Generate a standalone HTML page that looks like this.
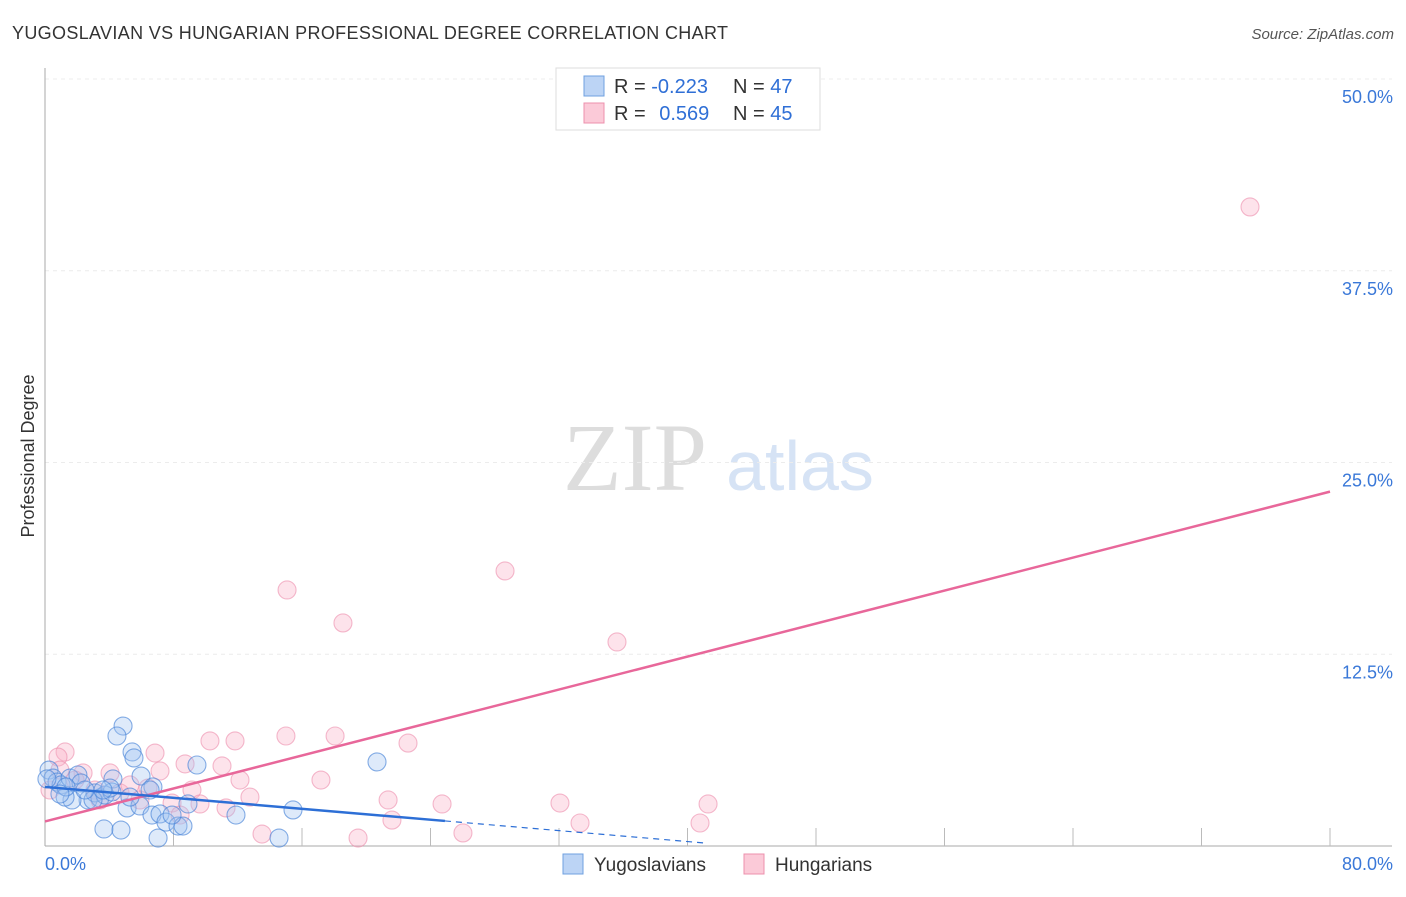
<!DOCTYPE html>
<html><head><meta charset="utf-8">
<style>
body{margin:0;background:#fff;font-family:"Liberation Sans",sans-serif;}
#wrap{position:relative;width:1406px;height:892px;}
</style></head>
<body>
<div id="wrap">
<svg id="svg" width="1406" height="892" xmlns="http://www.w3.org/2000/svg">
<text x="12" y="39" font-size="18" fill="#333" textLength="716">YUGOSLAVIAN VS HUNGARIAN PROFESSIONAL DEGREE CORRELATION CHART</text>
<text x="1394" y="39" font-size="15" fill="#555" font-style="italic" text-anchor="end">Source: ZipAtlas.com</text>
<text x="34" y="456" font-size="18" fill="#333" text-anchor="middle" transform="rotate(-90 34 456)">Professional Degree</text>
<g>
<text x="635" y="490" font-size="96" fill="#ddd" font-family="Liberation Serif" text-anchor="middle">ZIP</text>
<text x="800" y="490" font-size="70" fill="#d6e3f5" text-anchor="middle">atlas</text>
</g>
<g id="grid"></g>
<g id="marks"></g>
<g>
<rect x="556" y="68" width="264" height="62" fill="#fff" stroke="#ddd"/>
<rect x="584" y="76" width="20" height="20" fill="#bcd4f5" stroke="#6fa0e0"/>
<rect x="584" y="103" width="20" height="20" fill="#fbcad8" stroke="#ec90ad"/>
<text x="614" y="93" font-size="20" fill="#333">R = <tspan fill="#2f6fd6">-0.223</tspan></text>
<text x="733" y="93" font-size="20" fill="#333">N = <tspan fill="#2f6fd6">47</tspan></text>
<text x="614" y="120" font-size="20" fill="#333">R = <tspan fill="#2f6fd6" dx="8">0.569</tspan></text>
<text x="733" y="120" font-size="20" fill="#333">N = <tspan fill="#2f6fd6">45</tspan></text>
</g>
<g>
<rect x="563" y="854" width="20" height="20" fill="#bcd4f5" stroke="#6fa0e0"/>
<text x="594" y="871" font-size="19" fill="#333">Yugoslavians</text>
<rect x="744" y="854" width="20" height="20" fill="#fbcad8" stroke="#ec90ad"/>
<text x="775" y="871" font-size="19" fill="#333">Hungarians</text>
</g>
</svg>
</div>
<script>
const yTicks=[12.5,25,37.5,50];
const yTickLabels=["12.5%","25.0%","37.5%","50.0%"];
const xTickLabels=["0.0%","80.0%"];
const blueX=[4.86,4.48,5.42,5.54,0.25,0.50,0.75,1.00,1.56,2.05,2.24,2.68,1.68,1.25,3.11,3.42,3.74,4.23,4.17,5.98,6.72,5.11,5.91,6.66,7.16,7.53,8.28,8.59,8.90,9.46,11.89,15.44,20.67,3.67,4.73,7.04,14.57,1.31,2.99,4.05,5.29,6.54,7.91,0.93,2.49,0.12,3.61];
const blueY=[7.82,7.17,6.13,5.74,4.95,4.43,4.17,3.98,4.43,4.63,4.11,3.00,3.00,3.19,3.46,3.13,3.32,4.37,3.52,4.56,3.85,2.48,2.61,2.02,2.09,1.56,1.30,1.30,2.74,5.28,2.02,2.35,5.48,1.11,1.04,0.52,0.52,3.85,3.00,3.78,3.19,3.65,2.02,3.39,3.65,4.37,3.65];
const pinkX=[75.02,28.64,15.07,18.55,35.61,1.25,0.81,6.85,10.27,11.83,15.00,18.06,22.60,8.72,11.02,7.16,2.37,4.05,12.14,17.18,9.15,12.76,9.65,11.27,21.36,24.72,32.06,41.28,21.60,33.31,40.78,13.51,19.49,26.02,5.91,4.67,3.11,7.91,0.31,1.87,5.29,8.41,3.42,6.41,0.93];
const pinkY=[41.66,17.93,16.69,14.54,13.30,6.13,5.80,6.06,6.85,6.85,7.17,7.17,6.71,5.35,5.22,4.89,4.76,4.76,4.30,4.30,3.65,3.19,2.74,2.48,3.00,2.74,2.80,2.74,1.69,1.50,1.50,0.78,0.52,0.85,3.00,3.46,3.65,2.80,3.65,4.30,3.98,2.02,3.00,3.78,4.95];
const pinkTrend=[1.6,23.1];
const blueTrend=[3.85,-0.089];
const blueSolidEnd=24.9, blueDashEnd=41;
const NS="http://www.w3.org/2000/svg";
const sx=v=>45+v/80*1285, sy=v=>846-v/50*767;
function mk(t,a,p){const e=document.createElementNS(NS,t);for(const k in a)e.setAttribute(k,a[k]);p.appendChild(e);return e;}
const grid=document.getElementById('grid'), marks=document.getElementById('marks');
yTicks.forEach((t,i)=>{
 const l=mk('line',{x1:45,x2:1392,y1:sy(t),y2:sy(t),stroke:'#ececec','stroke-dasharray':'4,4'},grid);
 
 
 const tx=mk('text',{x:1393,y:sy(t)+24,'font-size':18,fill:'#3a78d8','text-anchor':'end'},grid);
 tx.textContent=yTickLabels[i];
 
 
});
const ax=mk('line',{x1:45,x2:45,y1:68,y2:846,stroke:'#aaa'},grid);


const bx=mk('line',{x1:45,x2:1392,y1:846,y2:846,stroke:'#aaa'},grid);


for(let i=1;i<=10;i++){
 const t=mk('line',{x1:sx(i*8),x2:sx(i*8),y1:828,y2:846,stroke:'#bbb'},grid);
 
 
}
[[0,'start',45],[80,'end',1393]].forEach((d,i)=>{
 const t=mk('text',{x:d[2],y:870,'font-size':18,fill:'#3a78d8','text-anchor':d[1]},grid);
 t.textContent=xTickLabels[i];
 
 
});
pinkX.forEach((x,i)=>{
 const c=mk('circle',{cx:sx(x),cy:sy(pinkY[i]),r:9,fill:'rgba(248,175,198,0.35)',stroke:'rgba(236,140,172,0.6)','stroke-width':1.1},marks);
 
 
});
blueX.forEach((x,i)=>{
 const c=mk('circle',{cx:sx(x),cy:sy(blueY[i]),r:9,fill:'rgba(160,195,240,0.35)',stroke:'rgba(70,130,215,0.65)','stroke-width':1.1},marks);
 
 
});
const pl=mk('line',{x1:sx(0),y1:sy(pinkTrend[0]),x2:sx(80),y2:sy(pinkTrend[1]),stroke:'#e8679a','stroke-width':2.5},marks);


const bl=mk('line',{x1:sx(0),y1:sy(blueTrend[0]),x2:sx(blueSolidEnd),y2:sy(blueTrend[0]+blueTrend[1]*blueSolidEnd),stroke:'#2d6fd6','stroke-width':2.5},marks);


const bd=mk('line',{x1:sx(blueSolidEnd),y1:sy(blueTrend[0]+blueTrend[1]*blueSolidEnd),x2:sx(blueDashEnd),y2:sy(blueTrend[0]+blueTrend[1]*blueDashEnd),stroke:'#2d6fd6','stroke-width':1.2,'stroke-dasharray':'6,5'},marks);


</script>
</body></html>
